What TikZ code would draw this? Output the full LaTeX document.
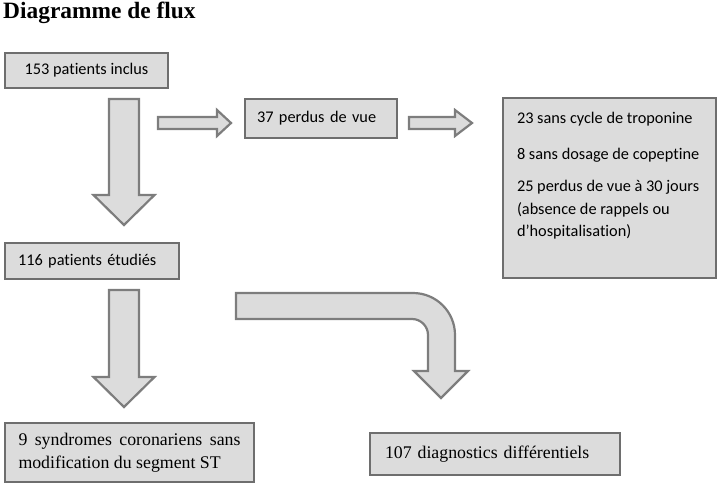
\documentclass[tikz,border=0pt]{standalone}
\usepackage{fontspec}
\setmainfont{Liberation Serif}
\newfontfamily\carlito[Ligatures=NoCommon]{Carlito}
\definecolor{boxfill}{HTML}{DCDCDC}
\definecolor{boxline}{HTML}{6E6E6E}
\newcommand\fatdown[4]{\draw[fat] (#1-15,#2) -- (#1+15,#2) -- (#1+15,#3) -- (#1+30.5,#3) -- (#1,#4) -- (#1-30.5,#3) -- (#1-15,#3) -- cycle;}
\newcommand\fatright[4]{\draw[fat] (#2,#1-6) -- (#3,#1-6) -- (#3,#1-13) -- (#4,#1) -- (#3,#1+13) -- (#3,#1+6) -- (#2,#1+6) -- cycle;}
\begin{document}
\begin{tikzpicture}[x=1pt,y=-1pt,
    box/.style={draw=boxline,line width=2.8pt,fill=boxfill,anchor=north west,outer sep=0pt,inner ysep=0pt,align=left},
    fat/.style={draw=boxline!90,line width=2.2pt,fill=boxfill},
    sans/.style={font=\carlito\fontsize{16.3}{21}\selectfont},
    serif/.style={font=\fontsize{17.8}{23}\selectfont}]
  \useasboundingbox (0,0) rectangle (717,489);
  \node[anchor=base west,inner sep=0pt,font=\bfseries\fontsize{23.4}{26}\selectfont] (titre) at (3,19) {Diagramme de flux};

  \fatdown{124}{99}{195}{225}
  \fatdown{124}{290}{377}{407}
  \fatright{123}{158}{217}{231}
  \fatright{123}{409}{455}{472}
  \draw[fat] (236,293) -- (413,293) .. controls (436.2,293) and (455,311.8) .. (455,335) -- (455,371)
    -- (468,371) -- (441,398) -- (414,371) -- (428,371) -- (428,335)
    .. controls (428,326.2) and (420.8,319) .. (412,319) -- (236,319) -- cycle;

  \node[box,sans,inner xsep=0pt,minimum width=163,minimum height=35] (incl) at (5,53) {153 patients inclus};
  \node[box,sans,inner xsep=12pt,text width=128pt,minimum height=39] (perdus) at (245,99) {37 perdus de vue};
  \node[box,sans,inner xsep=0pt] (detail) at (503,98) {\parbox[t][180pt][t]{213pt}{\leftskip=14pt\baselineskip=22.5pt
    \vspace*{11pt}\strut 23 sans cycle de troponine\\[13.5pt]
    8 sans dosage de copeptine\\[9.5pt]
    25 perdus de vue à 30 jours\\
    (absence de rappels ou\\
    d’hospitalisation)}};
  \node[box,sans,inner xsep=13pt,text width=148pt,minimum height=36] (etud) at (5,243) {116 patients étudiés};
  \node[box,serif,inner xsep=13.5pt,text width=222pt,align=justify,minimum height=59] (scs) at (5,423)
    {\hyphenpenalty=10000 9 syndromes coronariens sans modification du segment ST};
  \node[box,serif,inner xsep=15pt,text width=220pt,minimum height=42] (diag) at (370,433) {107 diagnostics différentiels};
\end{tikzpicture}
\end{document}
